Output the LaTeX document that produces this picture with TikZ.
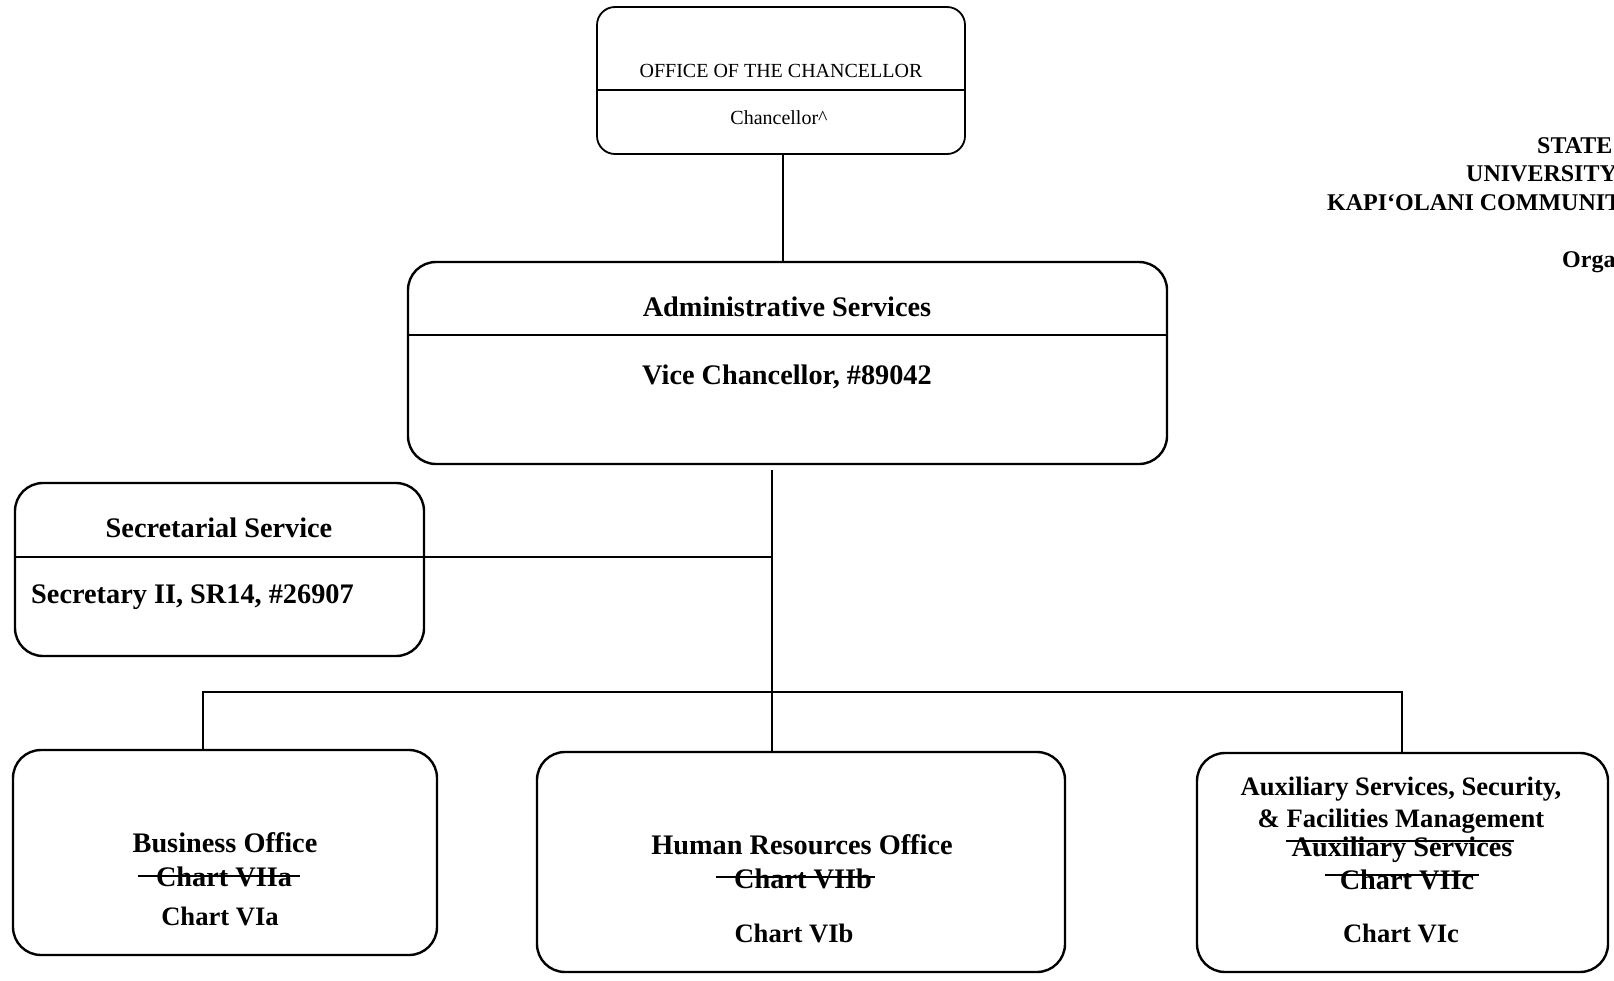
\documentclass[tikz,border=0pt]{standalone}
\usepackage{fontspec}
\setmainfont{Liberation Serif}
\begin{document}
\begin{tikzpicture}[
    x=1pt, y=-1pt,
    % Define Styles
    unitbox/.style={
        draw,
        rectangle,
        rounded corners=28pt,
        line width=2.4pt,
        inner sep=0pt
    },
    topbox/.style={
        unitbox,
        rounded corners=18pt,
        line width=1.8pt
    },
    oldtext/.style={
        font=\fontsize{28.3}{33}\selectfont\bfseries,
        inner sep=0pt,
        text height=19pt,
        text depth=0pt
    },
    newtext/.style={
        oldtext,
        font=\fontsize{26.6}{31}\selectfont\bfseries
    },
    smalltext/.style={
        font=\fontsize{20}{24}\selectfont,
        inner sep=0pt,
        text height=13pt,
        text depth=0pt
    },
    headtext/.style={
        font=\fontsize{24}{28}\selectfont\bfseries,
        anchor=west,
        inner sep=0pt,
        text height=16pt,
        text depth=0pt
    },
    connector/.style={
        draw,
        line width=2pt
    },
    divider/.style={
        draw,
        line width=2pt
    },
    strike/.style={
        draw,
        line width=2.2pt
    }
    ]

    \fill[white] (0,0) rectangle (1614,980);
    \useasboundingbox (0,0) rectangle (1614,980);

    % Boxes
    \node[topbox, minimum width=368pt, minimum height=147pt] (chanc) at (781,80.5) {};
    \node[unitbox, minimum width=759pt, minimum height=202pt] (admin) at (787.5,363) {};
    \node[unitbox, minimum width=409pt, minimum height=173pt] (secr) at (219.5,569.5) {};
    \node[unitbox, minimum width=424pt, minimum height=205pt] (busi) at (225,852.5) {};
    \node[unitbox, minimum width=528pt, minimum height=220pt] (hrof) at (801,862) {};
    \node[unitbox, minimum width=411pt, minimum height=219pt] (auxs) at (1402.5,862.5) {};

    % Define Coordinates
    \coordinate (trunk) at (772,470);   % top of the trunk under Admin
    \coordinate (busL) at (203,692);    % left end of the bus
    \coordinate (busR) at (1402,692);   % right end of the bus
    \coordinate (secdiv) at (15,557);   % divider of Secretarial box

    % Dividers
    \draw[divider] (chanc.west |- 0,90) -- (chanc.east |- 0,90);
    \draw[divider] (admin.west |- 0,335) -- (admin.east |- 0,335);
    \draw[divider] (secdiv) -- (secdiv -| trunk);

    % Draw Edges
    \draw[connector] (783,0 |- chanc.south) -- (783,0 |- admin.north);
    \draw[connector] (trunk) -- (trunk |- hrof.north);
    \draw[connector] (busL |- busi.north) -- (busL) -- (busR) -- (busR |- auxs.north);

    % Texts
    \node[smalltext] (chanct) at (781,71) {OFFICE OF THE CHANCELLOR};
    \node[smalltext] (chancs) at (779,118) {Chancellor\textasciicircum};

    \node[oldtext] (admint) at (787,307) {Administrative Services};
    \node[oldtext] (admins) at (787,375) {Vice Chancellor, \#89042};

    \node[oldtext] (secrt) at (219,528) {Secretarial Service};
    \node[oldtext, anchor=west] (secrs) at (31,594) {Secretary II, SR14, \#26907};

    \node[oldtext] (busit) at (225,843) {Business Office};
    \node[oldtext] (busio) at (224,877) {Chart VIIa};
    \node[newtext] (busin) at (220,916) {Chart VIa};

    \node[oldtext] (hroft) at (802,845) {Human Resources Office};
    \node[oldtext] (hrofo) at (803,879) {Chart VIIb};
    \node[newtext] (hrofn) at (794,933) {Chart VIb};

    \node[newtext] (auxst) at (1401,786) {Auxiliary Services, Security,};
    \node[newtext] (auxsu) at (1401,818) {\& Facilities Management};
    \node[oldtext] (auxso) at (1402,847) {Auxiliary Services};
    \node[oldtext] (auxsc) at (1407,880) {Chart VIIc};
    \node[newtext] (auxsn) at (1401,933) {Chart VIc};

    % Struck-out lines
    \draw[strike] ([xshift=-18pt,yshift=1pt]busio.west) -- ([xshift=8pt,yshift=1pt]busio.east);
    \draw[strike] ([xshift=-18pt,yshift=2pt]hrofo.west) -- ([xshift=3pt,yshift=2pt]hrofo.east);
    \draw[strike] ([xshift=-5pt,yshift=6pt]auxso.west) -- ([xshift=1pt,yshift=6pt]auxso.east);
    \draw[strike] ([xshift=-15pt,yshift=5pt]auxsc.west) -- ([xshift=5pt,yshift=5pt]auxsc.east);

    % Heading, cut at the page edge
    \begin{scope}
        \clip (0,0) rectangle (1614,980);
        \node[headtext] (hstate) at (1537,145) {STATE};
        \node[headtext] (huniv) at (1466,173) {UNIVERSITY};
        \node[headtext] (hcoll) at (1327,202) {KAPI‘OLANI COMMUNIT};
        \node[headtext] (horga) at (1562,259) {Orga};
    \end{scope}

\end{tikzpicture}
\end{document}
